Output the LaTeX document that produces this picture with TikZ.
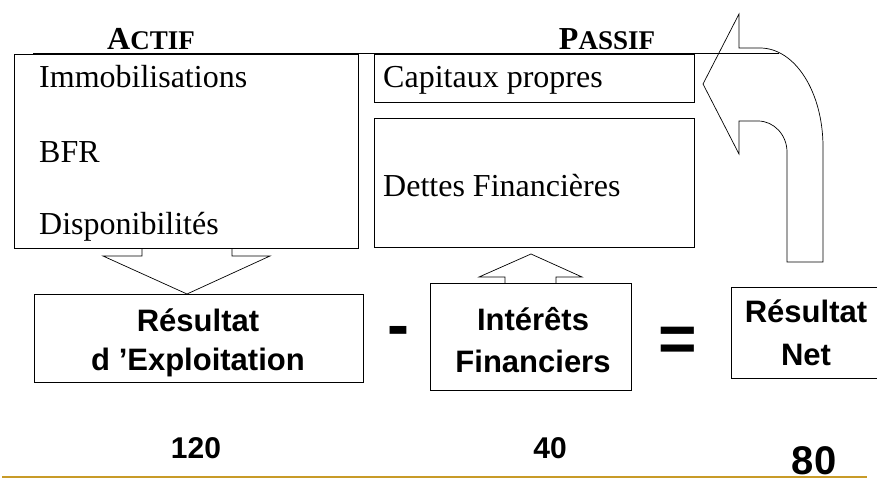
\documentclass[tikz,border=0pt]{standalone}
\usepackage{fontspec}
\setmainfont{Liberation Serif}
\newfontfamily\headsans{Liberation Sans}
\definecolor{goldline}{RGB}{200,155,40}
\begin{document}
\begin{tikzpicture}[x=1pt,y=-1pt,
  box/.style={draw, line width=0.8pt, inner sep=0, anchor=north west},
  outline/.style={draw, line width=0.7pt, line join=miter},
  sertext/.style={inner sep=0, anchor=base west, font=\fontsize{32}{38}\selectfont},
  heading/.style={inner sep=0, anchor=base, font=\bfseries},
  sanstext/.style={inner sep=0, anchor=base, font=\headsans\bfseries\fontsize{31}{36}\selectfont},
  numtext/.style={inner sep=0, anchor=base, font=\headsans\bfseries\fontsize{30}{34}\selectfont},
  bigsign/.style={inner sep=0, anchor=base, font=\headsans\bfseries\fontsize{66}{70}\selectfont}]
\useasboundingbox (0,0) rectangle (877,478);

% balance sheet headings and rule
\node[heading] (actifhead) at (151,50) {{\fontsize{32}{33}\selectfont A}{\fontsize{27}{28}\selectfont CTIF}};
\node[heading] (passifhead) at (607,50) {{\fontsize{32}{33}\selectfont P}{\fontsize{27}{28}\selectfont ASSIF}};
\coordinate (ruleL) at (33,53);
\coordinate (ruleR) at (779,53);
\draw[line width=0.8pt] (ruleL) -- (ruleR);

% asset side
\node[box, minimum width=344pt, minimum height=194pt] (actif) at (14,54) {};
\node[sertext] (immo) at (39,88) {Immobilisations};
\node[sertext] (bfr) at (39,163) {BFR};
\node[sertext] (dispo) at (39,235) {Disponibilités};

% liabilities side
\node[box, minimum width=320pt, minimum height=48pt] (capitaux) at (374,54) {};
\node[sertext] (captext) at (383,88) {Capitaux propres};
\node[box, minimum width=320pt, minimum height=129pt] (dettes) at (374,118) {};
\node[sertext] (dettext) at (383,197) {Dettes Financières};

% income statement boxes
\node[box, minimum width=329pt, minimum height=88pt] (resexp) at (34,294) {};
\node[sanstext] (resexpA) at (198,331) {Résultat};
\node[sanstext] (resexpB) at (198,370) {d ’Exploitation};

\node[box, minimum width=201pt, minimum height=107pt] (interets) at (430,283) {};
\node[sanstext] (intA) at (533,330) {Intérêts};
\node[sanstext] (intB) at (533,372) {Financiers};

\node[box, minimum width=145.5pt, minimum height=91pt] (resnet) at (731,287) {};
\node[sanstext] (netA) at (806,322) {Résultat};
\node[sanstext] (netB) at (806,365) {Net};

% operators
\node[bigsign] (minus) at (398,347) {-};
\node[bigsign] (equals) at (678,361) {=};

% figures
\node[numtext] (v120) at (196,458) {120};
\node[numtext] (v40) at (550,458) {40};
\node[numtext, font=\headsans\bfseries\fontsize{40}{44}\selectfont] (v80) at (814,474) {80};

% block arrow: assets feed operating result
\draw[outline] (142,248) -- (142,256) -- (103,256) -- (187,294) -- (270,256) -- (232,256) -- (232,248);

% block arrow: interest paid to lenders
\draw[outline] (505,283) -- (505,277) -- (479,277) -- (531,254) -- (582,277) -- (556,277) -- (556,283);

% bent arrow: net result goes back to equity
\draw[outline] (739,14) -- (739,48) -- (760,48)
  .. controls (795,48) and (823,92) .. (823,147)
  -- (823,262) -- (787,262) -- (787,152)
  .. controls (787,135) and (774,121) .. (758,121)
  -- (739,121) -- (739,154) -- (703,84) -- cycle;

% bottom rule
\coordinate (baseL) at (2,477);
\coordinate (baseR) at (867,477);
\draw[goldline, line width=1.4pt] (baseL) -- (baseR);
\end{tikzpicture}
\end{document}
